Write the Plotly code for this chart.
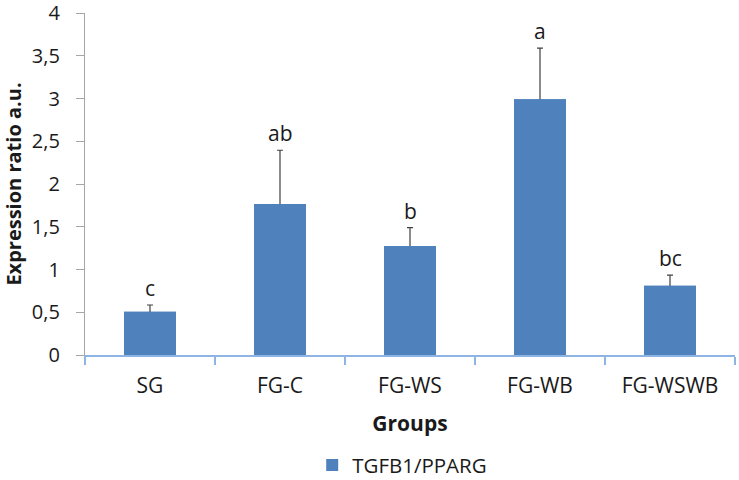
import plotly.graph_objects as go

categories = ["SG", "FG-C", "FG-WS", "FG-WB", "FG-WSWB"]
values = [0.505, 1.765, 1.275, 2.99, 0.81]
errors = [0.08, 0.63, 0.215, 0.6, 0.125]
letters = ["c", "ab", "b", "a", "bc"]
series_name = "TGFB1/PPARG"
y_tickvals = [0, 0.5, 1, 1.5, 2, 2.5, 3, 3.5, 4]
y_ticktext = ["0", "0,5", "1", "1,5", "2", "2,5", "3", "3,5", "4"]

FONT = "'Open Sans', Lato, sans-serif"
BAR = "#4F81BD"

fig = go.Figure()
# bar with symmetric error bars; lower half hidden by overlaid copy below
fig.add_trace(go.Bar(
    x=categories, y=values, name=series_name, showlegend=True,
    marker=dict(color=BAR, line=dict(width=0)),
    width=0.4,
    error_y=dict(type="data", array=errors, symmetric=True,
                 color="#404040", thickness=1.2, width=3, visible=True),
))
fig.add_trace(go.Bar(
    x=categories, y=values, name=series_name, showlegend=False, hoverinfo="skip",
    marker=dict(color=BAR, line=dict(width=0)),
    width=0.4,
))

for c, v, e, t in zip(categories, values, errors, letters):
    fig.add_annotation(x=c, y=v + e, text=t, showarrow=False, yanchor="bottom", yshift=1,
                       font=dict(family=FONT, size=21, color="#1a1a1a"))

fig.update_layout(
    width=739, height=480,
    margin=dict(l=85, r=4, t=13, b=125, autoexpand=False),
    plot_bgcolor="white", paper_bgcolor="white",
    font=dict(family=FONT, size=21, color="#1a1a1a"),
    showlegend=True,
    barmode="overlay",
    legend=dict(orientation="h", x=0.488, xanchor="center", y=-0.322, yanchor="middle",
                font=dict(size=20.5), itemwidth=30),
)
fig.update_xaxes(
    showline=True, linecolor="#8EB4E3", linewidth=1.5,
    ticks="outside", tickson="boundaries", ticklen=8, tickcolor="#8EB4E3", tickwidth=1.5,
    range=[-0.5, 4.5], automargin=False,
    tickfont=dict(size=21), ticklabelstandoff=11,
    title=dict(text="<b>Groups</b>", font=dict(size=21), standoff=18),
    showgrid=False, zeroline=False,
)
fig.update_yaxes(
    range=[0, 4], tickvals=y_tickvals, ticktext=y_ticktext,
    showline=True, linecolor="#A6A6A6", linewidth=1.2,
    ticks="outside", ticklen=8, tickcolor="#A6A6A6",
    ticklabelstandoff=12, ticklabeloverflow="allow", automargin=False,
    tickfont=dict(size=20),
    title=dict(text="<b>Expression ratio a.u.</b>", font=dict(size=20), standoff=8),
    showgrid=False, zeroline=False,
)

fig.write_html("out.html", config={"displayModeBar": False},
               post_script="document.body.style.margin='0px';")
